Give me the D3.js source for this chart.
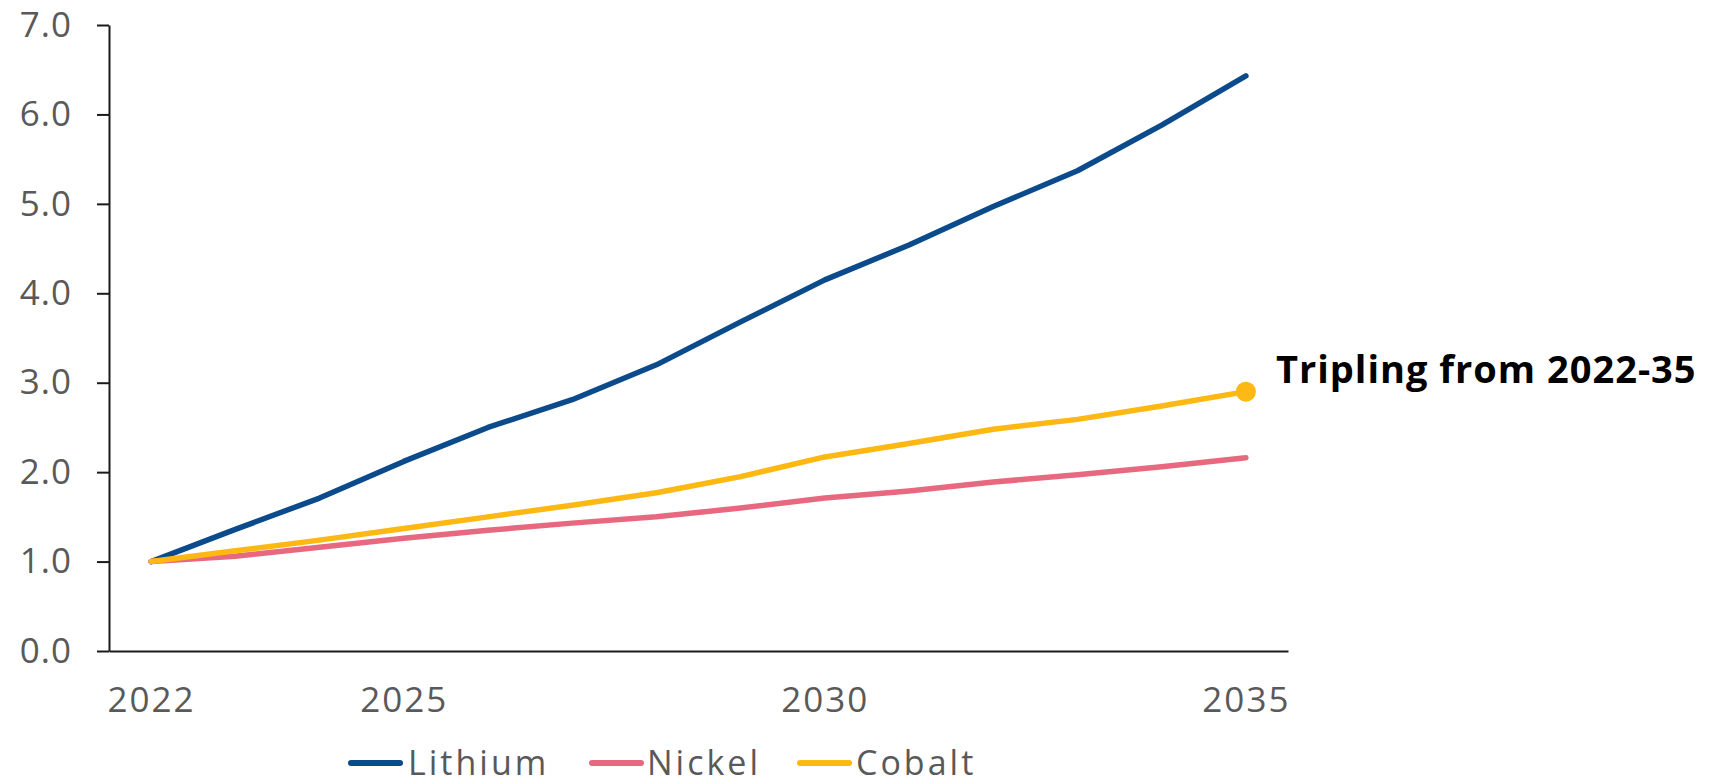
<!DOCTYPE html>
<html>
<head>
<meta charset="utf-8">
<script src="https://cdn.jsdelivr.net/npm/d3@7"></script>
<style>
  html, body { margin: 0; padding: 0; background: #fff; }
  svg { display: block; }
</style>
</head>
<body>
<svg id="chart" width="1716" height="784"></svg>
<script>
const years = [2022, 2023, 2024, 2025, 2026, 2027, 2028, 2029, 2030, 2031, 2032, 2033, 2034, 2035];
const lithium = [1.00, 1.36, 1.71, 2.12, 2.50, 2.81, 3.20, 3.68, 4.15, 4.54, 4.97, 5.37, 5.88, 6.43];
const nickel  = [1.00, 1.06, 1.16, 1.26, 1.35, 1.43, 1.50, 1.60, 1.71, 1.79, 1.89, 1.97, 2.06, 2.16];
const cobalt  = [1.00, 1.12, 1.24, 1.37, 1.50, 1.63, 1.77, 1.95, 2.17, 2.32, 2.48, 2.59, 2.74, 2.90];
const seriesNames = ["Lithium", "Nickel", "Cobalt"];
const seriesColors = ["#0B4A8B", "#E8697F", "#FDB813"];
const xTickYears = [2022, 2025, 2030, 2035];
const yTicks = [0, 1, 2, 3, 4, 5, 6, 7];
const annotationText = "Tripling from 2022-35";

const seriesValues = [lithium, nickel, cobalt];
const svg = d3.select("#chart");
const FONT = "'Open Sans', 'Noto Sans', sans-serif";

const x = d3.scaleLinear().domain([2021.5, 2035.5]).range([109, 1288]);
const y = d3.scaleLinear().domain([0, 7]).range([651, 25]);

// Y axis
const yAxis = svg.append("g")
  .attr("transform", `translate(${x(2021.5)},0)`)
  .call(d3.axisLeft(y).tickValues(yTicks).tickSize(12).tickSizeOuter(0).tickPadding(25).tickFormat(d3.format(".1f")));
yAxis.select(".domain").attr("stroke", "#1a1a1a").attr("stroke-width", 2);
yAxis.selectAll(".tick line").attr("stroke", "#1a1a1a").attr("stroke-width", 2);
yAxis.selectAll(".tick text")
  .attr("font-family", FONT).attr("font-size", 35).attr("fill", "#595959")
  .attr("letter-spacing", 1);

// X axis
const xAxis = svg.append("g")
  .attr("transform", `translate(0,${y(0)})`)
  .call(d3.axisBottom(x).tickValues(xTickYears).tickSize(0).tickSizeOuter(0).tickPadding(36).tickFormat(d3.format("d")));
xAxis.select(".domain").attr("stroke", "#1a1a1a").attr("stroke-width", 2);
xAxis.selectAll(".tick text")
  .attr("font-family", FONT).attr("font-size", 35).attr("fill", "#595959")
  .attr("letter-spacing", 2);

// Lines
const line = d3.line().x((d, i) => x(years[i])).y(d => y(d));
seriesValues.forEach((vals, k) => {
  svg.append("path")
    .datum(vals)
    .attr("d", line)
    .attr("fill", "none")
    .attr("stroke", seriesColors[k])
    .attr("stroke-width", 5.5)
    .attr("stroke-linejoin", "round")
    .attr("stroke-linecap", "round");
});

// End dot on cobalt
const lastIdx = years.length - 1;
svg.append("circle")
  .attr("cx", x(years[lastIdx]))
  .attr("cy", y(cobalt[lastIdx]))
  .attr("r", 10)
  .attr("fill", seriesColors[2]);

// Annotation
svg.append("text")
  .attr("x", x(years[lastIdx]) + 30)
  .attr("y", y(cobalt[lastIdx]) - 9)
  .attr("font-family", FONT)
  .attr("font-weight", 700)
  .attr("font-size", 38)
  .attr("letter-spacing", 1)
  .attr("fill", "#000")
  .text(annotationText);

// Legend
const legendItems = [
  { lx: 348, tx: 408 },
  { lx: 589, tx: 647 },
  { lx: 797, tx: 856 }
];
const ly = 763;
seriesNames.forEach((name, k) => {
  const g = svg.append("g");
  g.append("line")
    .attr("x1", legendItems[k].lx + 3).attr("x2", legendItems[k].lx + 52)
    .attr("y1", ly).attr("y2", ly)
    .attr("stroke", seriesColors[k]).attr("stroke-width", 6)
    .attr("stroke-linecap", "round");
  g.append("text")
    .attr("x", legendItems[k].tx)
    .attr("y", ly + 12)
    .attr("font-family", FONT).attr("font-size", 34).attr("fill", "#595959")
    .attr("letter-spacing", 3)
    .text(name);
});
</script>
</body>
</html>
